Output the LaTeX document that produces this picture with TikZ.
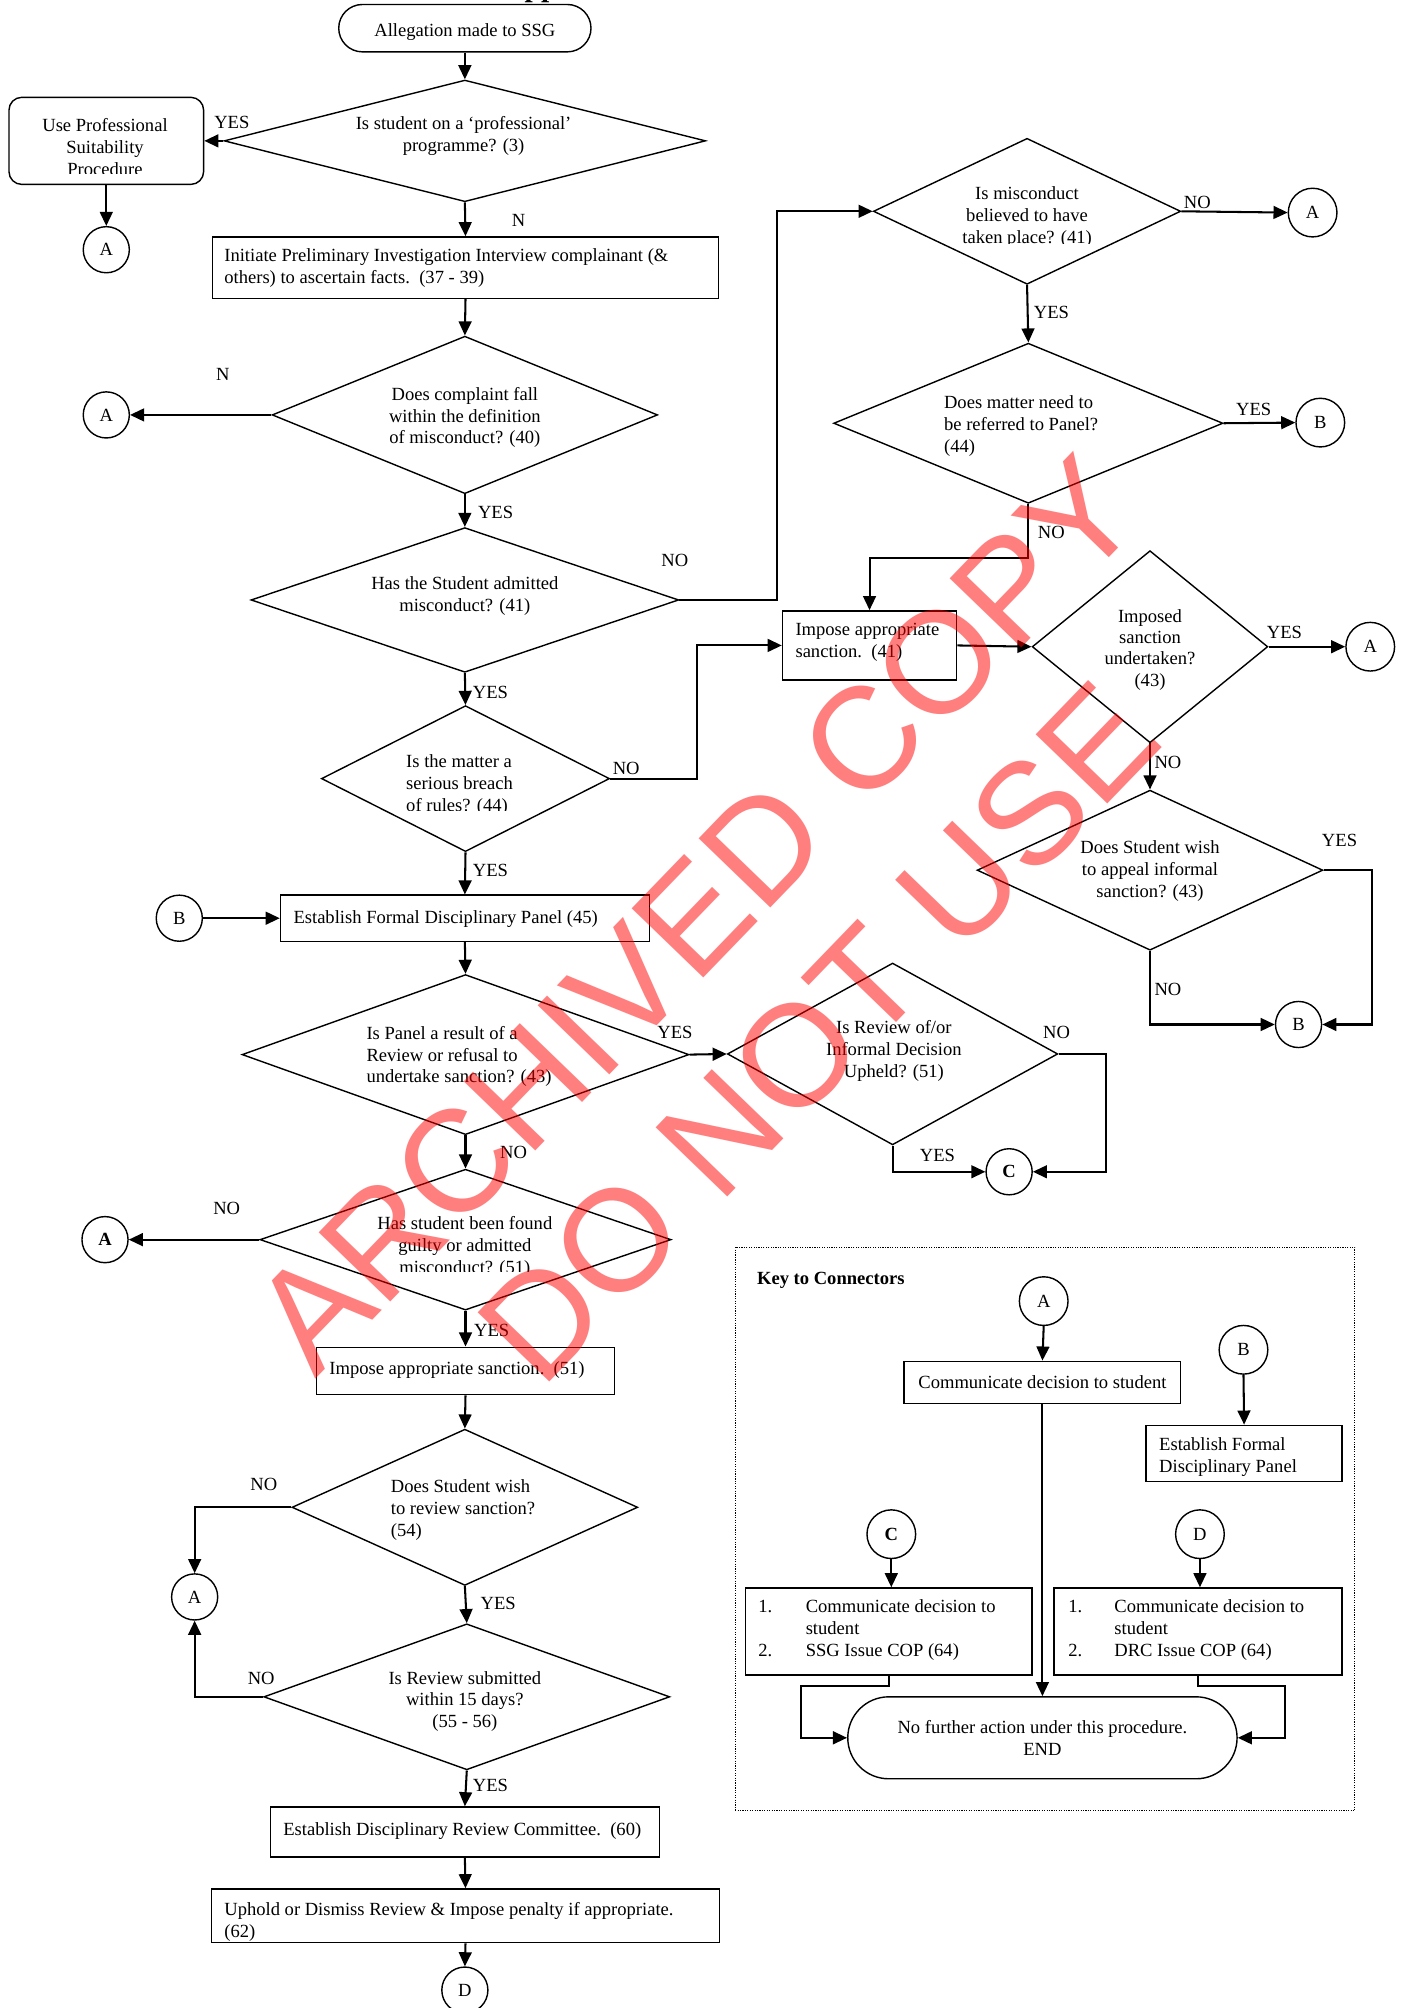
\documentclass[tikz,border=0pt]{standalone}
\usepackage{fontspec}
\setmainfont{Liberation Serif}
\newfontfamily\wmfont{Liberation Sans}
\usetikzlibrary{arrows.meta,shapes.geometric,shapes.misc}
\begin{document}
\begin{tikzpicture}[x=1pt,y=-1pt,
  txt/.style={font=\fontsize{14.5}{17}\selectfont,inner sep=0pt,yshift=-2pt},
  lbl/.style={font=\fontsize{14.5}{17}\selectfont,inner sep=0pt,yshift=-1pt},
  tf/.style={font=\fontsize{14.5}{17}\selectfont},
  shp/.style={draw,line width=1.1pt,inner sep=0pt},
  dia/.style={shp,diamond},
  box/.style={shp,rectangle},
  conn/.style={shp,circle,minimum size=36pt,font=\fontsize{14.5}{17}\selectfont},
  bconn/.style={conn,font=\bfseries\fontsize{14.5}{17}\selectfont},
  term/.style={shp,rounded rectangle},
  arr/.style={line width=1.6pt,-{Triangle[length=11pt,width=10pt]}},
  wmark/.style={font=\wmfont\fontsize{113}{133}\selectfont,text=red,text opacity=0.5,align=center,inner sep=0pt}
]
\useasboundingbox (0,0) rectangle (1096,1568);
\fill[white] (0,0) rectangle (1096,1568);

% clipped title fragment
\node[font=\bfseries\fontsize{23}{23}\selectfont,inner sep=0pt,anchor=base west] (title) at (409.5,-3) {pp};

% ---------- main column ----------
\node[term,minimum width=197pt,minimum height=37pt] (start) at (363,22) {};
\node[txt] (startt) at (363,23) {Allegation made to SSG};

\node[dia,minimum width=376pt,minimum height=95pt] (d1) at (363,110) {};
\node[txt,align=center] (d1t) at (362,104) {Is student on a ‘professional’\\programme? (3)};

\node[box,rounded corners=10pt,minimum width=152pt,minimum height=68pt] (ups) at (83,110) {};
\begin{scope}
\clip (0,70) rectangle (170,135.5);
\node[txt,align=center] (upst) at (82,113) {Use Professional\\Suitability\\Procedure};
\end{scope}
\node[conn] (a1) at (83,195) {A};

\node[box,minimum width=395pt,minimum height=48pt] (ipi) at (363.5,209) {};
\node[txt,align=left,anchor=west] (ipit) at (175,207.5) {Initiate Preliminary Investigation Interview complainant (\&\\others) to ascertain facts.\ \ (37 - 39)};

\node[dia,minimum width=301pt,minimum height=123pt] (d2) at (363,324) {};
\node[txt,align=center] (d2t) at (363,324) {Does complaint fall\\within the definition\\of misconduct? (40)};
\node[conn] (a2) at (83,324) {A};

\node[dia,minimum width=334pt,minimum height=113pt] (d3) at (363,468.5) {};
\node[txt,align=center] (d3t) at (363,463.5) {Has the Student admitted\\misconduct? (41)};

\node[dia,minimum width=225pt,minimum height=114pt] (d5) at (363.5,608) {};
\begin{scope}
\clip (300,570) rectangle (440,633);
\node[txt,align=left,anchor=west] (d5t) at (317,611) {Is the matter a\\serious breach\\of rules? (44)};
\end{scope}

\node[box,minimum width=288pt,minimum height=36pt] (efdp) at (363,717) {};
\node[txt,anchor=west] (efdpt) at (229,716) {Establish Formal Disciplinary Panel (45)};
\node[conn] (b1) at (140,717) {B};

\node[dia,minimum width=349pt,minimum height=125pt] (d6) at (363.5,823.5) {};
\node[txt,align=left,anchor=west] (d6t) at (286,823) {Is Panel a result of a\\Review or refusal to\\undertake sanction? (43)};

\node[dia,minimum width=258pt,minimum height=142pt] (d7) at (697,823) {};
\node[txt,align=center] (d7t) at (698,818.5) {Is Review of/or\\Informal Decision\\Upheld? (51)};
\node[bconn] (c1) at (788,915) {C};

\node[dia,minimum width=321pt,minimum height=110pt] (d8) at (363.5,968) {};
\begin{scope}
\clip (250,940) rectangle (480,992.5);
\node[txt,align=center] (d8t) at (363,971.5) {Has student been found\\guilty or admitted\\misconduct? (51)};
\end{scope}
\node[bconn] (a3) at (82,968) {A};

\node[box,minimum width=233pt,minimum height=37pt] (ias2) at (363.5,1070.5) {};
\node[txt,anchor=west] (ias2t) at (257,1068) {Impose appropriate sanction.\ \ (51)};

\node[dia,minimum width=270pt,minimum height=122pt] (d9) at (363,1177) {};
\node[txt,align=left,anchor=west] (d9t) at (305,1177) {Does Student wish\\to review sanction?\\(54)};
\node[conn] (a4) at (152,1247) {A};

\node[dia,minimum width=317pt,minimum height=114pt] (d10) at (364.5,1325) {};
\node[txt,align=center] (d10t) at (363,1326.5) {Is Review submitted\\within 15 days?\\(55 - 56)};

\node[box,minimum width=304pt,minimum height=39pt] (edrc) at (363,1430.5) {};
\node[txt,anchor=west] (edrct) at (221,1428) {Establish Disciplinary Review Committee.\ \ (60)};

\node[box,minimum width=397pt,minimum height=42pt] (uph) at (363.5,1496) {};
\node[txt,align=left,anchor=west] (upht) at (175,1498.5) {Uphold or Dismiss Review \& Impose penalty if appropriate.\\(62)};
\node[conn] (dd1) at (363,1554) {D};

% ---------- right column ----------
\node[dia,minimum width=240pt,minimum height=114pt] (d4) at (802,165) {};
\begin{scope}
\clip (700,130) rectangle (900,190.5);
\node[txt,align=center] (d4t) at (802,167.5) {Is misconduct\\believed to have\\taken place? (41)};
\end{scope}
\node[conn,minimum size=38pt] (a5) at (1025,166) {A};

\node[dia,minimum width=304pt,minimum height=125pt] (d11) at (803,330.5) {};
\node[txt,align=left,anchor=west] (d11t) at (737,330.5) {Does matter need to\\be referred to Panel?\\(44)};
\node[conn,minimum size=38pt] (b2) at (1031,330) {B};

\node[box,minimum width=136pt,minimum height=54pt] (ias1) at (679,504) {};
\node[txt,align=left,anchor=west] (ias1t) at (621,499.5) {Impose appropriate\\sanction.\ \ (41)};

\node[dia,minimum width=184pt,minimum height=150pt] (d12) at (898,505) {};
\node[txt,align=center,font=\fontsize{14.5}{16.5}\selectfont] (d12t) at (898,505.5) {Imposed\\sanction\\undertaken?\\(43)};
\node[conn,minimum size=38pt] (a6) at (1070,505) {A};

\node[dia,minimum width=270pt,minimum height=125pt] (d13) at (898,679.5) {};
\node[txt,align=center] (d13t) at (898,678) {Does Student wish\\to appeal informal\\sanction? (43)};
\node[conn] (b3) at (1014,800) {B};

% ---------- labels ----------
\node[lbl] (l1) at (181,95) {YES};
\node[lbl] (l2) at (405,171) {N};
\node[lbl] (l3) at (174,291) {N};
\node[lbl] (l4) at (387,399) {YES};
\node[lbl] (l5) at (527,437) {NO};
\node[lbl] (l6) at (383,540) {YES};
\node[lbl] (l7) at (489,599) {NO};
\node[lbl] (l8) at (383,679) {YES};
\node[lbl] (l9) at (527,805) {YES};
\node[lbl] (l10) at (825,805) {NO};
\node[lbl] (l11) at (732,901) {YES};
\node[lbl] (l12) at (401,899) {NO};
\node[lbl] (l13) at (177,943) {NO};
\node[lbl] (l14) at (384,1038) {YES};
\node[lbl] (l15) at (206,1158) {NO};
\node[lbl] (l16) at (389,1251) {YES};
\node[lbl] (l17) at (204,1310) {NO};
\node[lbl] (l18) at (383,1393) {YES};
\node[lbl] (l19) at (935,157) {NO};
\node[lbl] (l20) at (821,243) {YES};
\node[lbl] (l21) at (979,319) {YES};
\node[lbl] (l22) at (821,415) {NO};
\node[lbl] (l23) at (1003,493) {YES};
\node[lbl] (l24) at (912,594) {NO};
\node[lbl] (l25) at (1046,655) {YES};
\node[lbl] (l26) at (912,772) {NO};

% ---------- connectors ----------
\draw[arr] (start.south) -- (d1.north);
\draw[arr] (d1.west) -- (ups.east);
\draw[arr] (ups.south) -- (a1.north);
\draw[arr] (d1.south) -- (ipi.north);
\draw[arr] (ipi.south) -- (d2.north);
\draw[arr] (d2.west) -- (a2.east);
\draw[arr] (d2.south) -- (d3.north);
\draw[arr] (d3.east) -- ++(76,0) |- (d4.west);
\draw[arr] (d3.south) -- (d5.north);
\draw[arr] (d5.east) -- ++(68,0) |- (ias1.west);
\draw[arr] (d5.south) -- (efdp.north);
\draw[arr] (b1.east) -- (efdp.west);
\draw[arr] (efdp.south) -- (d6.north);
\draw[arr] (d6.east) -- (d7.west);
\draw[arr] (d7.east) -- ++(37,0) |- (c1.east);
\draw[arr] (d7.south) |- (c1.west);
\draw[arr] (d6.south) -- (d8.north);
\draw[arr] (d8.west) -- (a3.east);
\draw[arr] (d8.south) -- (ias2.north);
\draw[arr] (ias2.south) -- (d9.north);
\draw[arr] (d9.west) -| (a4.north);
\draw[arr] (d9.south) -- (d10.north);
\draw[arr] (d10.west) -| (a4.south);
\draw[arr] (d10.south) -- (edrc.north);
\draw[arr] (edrc.south) -- (uph.north);
\draw[arr] (uph.south) -- (dd1.north);

\draw[arr] (d4.east) -- (a5.west);
\draw[arr] (d4.south) -- (d11.north);
\draw[arr] (d11.east) -- (b2.west);
\draw[arr] (d11.south) -- ++(0,42) -| (ias1.north);
\draw[arr] (ias1.east) -- (d12.west);
\draw[arr] (d12.east) -- (a6.west);
\draw[arr] (d12.south) -- (d13.north);
\draw[arr] (d13.east) -- ++(38,0) |- (b3.east);
\draw[arr] (d13.south) |- (b3.west);

% ---------- key ----------
\node[draw,densely dotted,line width=0.9pt,minimum width=484pt,minimum height=440pt,inner sep=0pt] (key) at (816,1194) {};
\node[txt,font=\bfseries\fontsize{14.5}{17}\selectfont,anchor=west] (keyt) at (591,998) {Key to Connectors};
\node[conn,minimum size=38pt] (ka) at (815,1016) {A};
\node[box,tf,minimum width=216pt,minimum height=33pt] (kcom) at (814,1079.5) {Communicate decision to student};
\node[conn,minimum size=38pt] (kb) at (971,1054) {B};
\node[box,minimum width=153pt,minimum height=44pt] (kef) at (971.5,1135) {};
\node[txt,align=left,anchor=west] (keft) at (905,1135.5) {Establish Formal\\Disciplinary Panel};
\node[bconn,minimum size=38pt] (kc) at (696,1198) {C};
\node[box,minimum width=224pt,minimum height=68pt] (kbc) at (694,1274) {};
\node[txt,align=left,anchor=west] (kbct) at (592,1271) {\makebox[37pt][l]{1.}Communicate decision to\\\hspace*{37pt}student\\\makebox[37pt][l]{2.}SSG Issue COP (64)};
\node[conn,minimum size=38pt] (kd) at (937,1198) {D};
\node[box,minimum width=225pt,minimum height=68pt] (kbd) at (935.5,1274) {};
\node[txt,align=left,anchor=west] (kbdt) at (834,1271) {\makebox[36pt][l]{1.}Communicate decision to\\\hspace*{36pt}student\\\makebox[36pt][l]{2.}DRC Issue COP (64)};
\node[term,tf,align=center,minimum width=304pt,minimum height=64pt] (kend) at (814,1357) {No further action under this procedure.\\END};

\draw[arr] (ka.south) -- (kcom.north);
\draw[arr] (kb.south) -- (kef.north);
\draw[arr] (kc.south) -- (kc.south |- kbc.north);
\draw[arr] (kd.south) -- (kd.south |- kbd.north);
\draw[arr] (kcom.south) -- (kend.north);
\draw[arr] (kbc.south) -- ++(0,8) -| ([xshift=-36pt]kend.west) -- (kend.west);
\draw[arr] (kbd.south) -- ++(0,8) -| ([xshift=37pt]kend.east) -- (kend.east);

% ---------- watermark ----------
\node[wmark,rotate=46] (wm) at (591,760) {ARCHIVED COPY\\DO NOT USE};
\end{tikzpicture}
\end{document}
